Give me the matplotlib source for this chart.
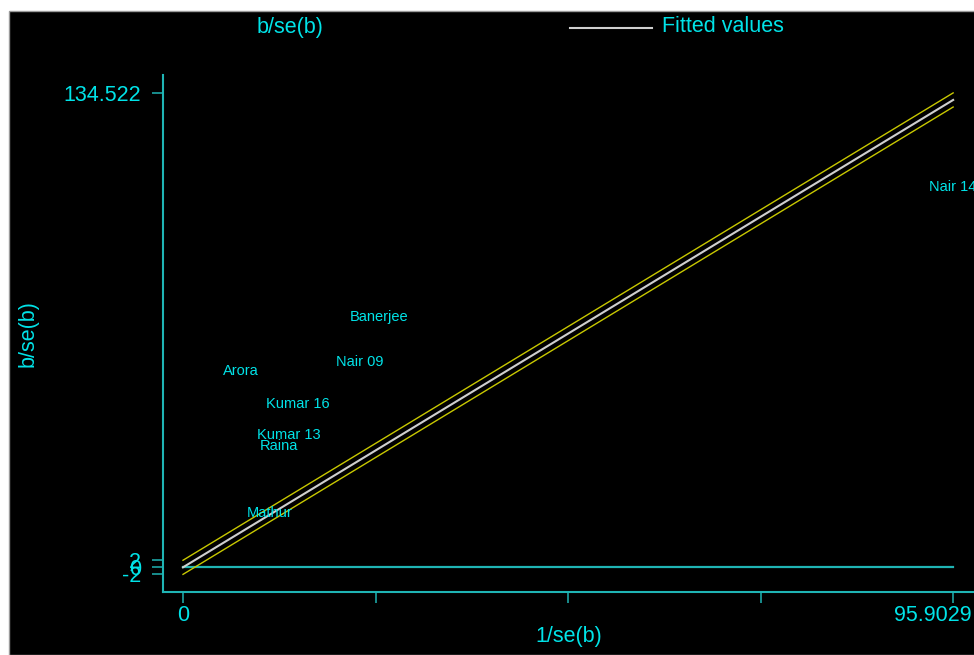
import matplotlib
matplotlib.use("Agg")
import matplotlib.pyplot as plt
from matplotlib.patches import Rectangle
from matplotlib.lines import Line2D
import matplotlib.transforms as mtransforms
import numpy as np

plt.rcParams['font.family'] = ['Liberation Sans', 'DejaVu Sans']

# Galbraith plot data: precision (1/se) and standardized effect (b/se)
studies = ["Banerjee", "Nair 09", "Arora", "Kumar 16", "Kumar 13", "Raina", "Mathur", "Nair 14"]
inv_se = [24.37, 22.05, 7.22, 14.28, 13.12, 11.93, 10.84, 95.9029]
b_over_se = [71.1, 58.1, 55.7, 46.3, 37.5, 34.5, 15.4, 107.8]

# Regression through the origin (pooled estimate) and +/-2 band
slope = 1.38184
band = 2.0

y_ticks = [-2, 0, 2, 134.522]
y_ticklabels = ["-2", "0", "2", "134.522"]
x_max = 95.9029
x_ticks = [0, x_max / 4, x_max / 2, 3 * x_max / 4, x_max]
x_ticklabels = ["0", "", "", "", "95.9029"]

TEXT = "#00e3e8"
AXIS = "#1fb4b4"
FIT = "#cfcfcf"
BAND = "#c8c800"

W, H = 974, 655
fig = plt.figure(figsize=(W / 100, H / 100), dpi=100)
fig.patch.set_facecolor("white")

# black graph region with a thin gray frame
fig.patches.append(Rectangle((8.5 / W, 0), 1, (H - 10.5) / H, transform=fig.transFigure,
                             facecolor="black", edgecolor="#9a9a9a", linewidth=1.0, zorder=-10))

left, right, bottom, top = 163, 974, 592, 75
ax = fig.add_axes([left / W, (H - bottom) / H, (right - left) / W, (bottom - top) / H])
ax.set_facecolor("black")
ax.set_zorder(1)

xa = np.array([0.0, x_max])
ax.plot(xa, np.zeros_like(xa), color=AXIS, lw=1.6, zorder=2)
ax.plot(xa, slope * xa, color=FIT, lw=1.5, zorder=3)
ax.plot(xa, slope * xa + band, color=BAND, lw=1.0, zorder=3)
ax.plot(xa, slope * xa - band, color=BAND, lw=1.0, zorder=3)

for name, x, y in zip(studies, inv_se, b_over_se):
    ax.text(x, y, name, color=TEXT, fontsize=10.5, ha="center", va="center", zorder=4,
            clip_on=False)

ax.set_xlim(-2.49, 98.5)
ax.set_ylim(-7.0, 139.6)

for s in ["top", "right"]:
    ax.spines[s].set_visible(False)
for s in ["left", "bottom"]:
    ax.spines[s].set_color(AXIS)
    ax.spines[s].set_linewidth(1.5)

ax.set_xticks(x_ticks)
ax.set_xticklabels(x_ticklabels)
ax.set_yticks(y_ticks)
ax.set_yticklabels(y_ticklabels)
ax.tick_params(axis="x", direction="out", length=8, width=1.1, color=AXIS,
               labelcolor=TEXT, labelsize=15.5, pad=1.5)
ax.tick_params(axis="y", direction="out", length=8, width=1.1, color=AXIS,
               labelcolor=TEXT, labelsize=15.5, pad=8)

# keep the last x tick label inside the graph edge
last = ax.get_xticklabels()[-1]
last.set_horizontalalignment("right")
last.set_transform(last.get_transform() + mtransforms.ScaledTranslation(18 / 100, 0, fig.dpi_scale_trans))

ax.set_xlabel("1/se(b)", color=TEXT, fontsize=15.5, labelpad=0)
ax.set_ylabel("b/se(b)", color=TEXT, fontsize=15.5)
ax.yaxis.set_label_coords(-(163 - 39) / (right - left), 0.5)

# legend row along the top
fig.text(257 / W, 1 - 27 / H, "b/se(b)", color=TEXT, fontsize=15.5, ha="left", va="center")
fig.lines.append(Line2D([570 / W, 652 / W], [1 - 28 / H, 1 - 28 / H], transform=fig.transFigure,
                        color=FIT, lw=1.5))
fig.text(662 / W, 1 - 27 / H, "Fitted values", color=TEXT, fontsize=15.5, ha="left", va="center")

fig.savefig("out.png", dpi=100, facecolor=fig.get_facecolor())
